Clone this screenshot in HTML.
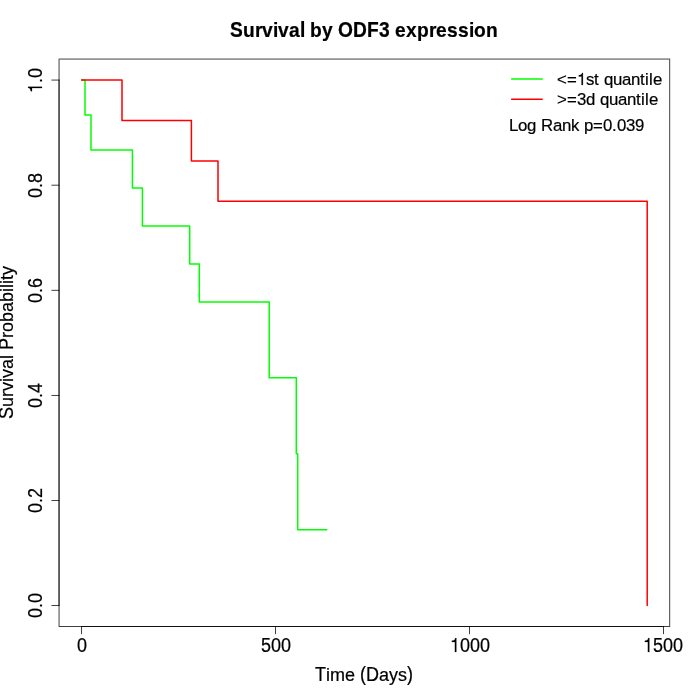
<!DOCTYPE html>
<html>
<head>
<meta charset="utf-8">
<title>Survival by ODF3 expression</title>
<style>
  html, body { margin: 0; padding: 0; background: #ffffff; }
  body { width: 700px; height: 700px; overflow: hidden; }
  svg { display: block; will-change: transform; }
  text { font-family: "Liberation Sans", sans-serif; fill: #000000; }
</style>
</head>
<body>
<svg width="700" height="700" viewBox="0 0 700 700">
  <rect x="0" y="0" width="700" height="700" fill="#ffffff"/>

  <!-- survival curves -->
  <g fill="none" stroke-width="1.5" stroke-linecap="round" stroke-linejoin="round">
    <path stroke="#00ff00" d="M81.66 80.06 H85 V115.09 H91 V150.12 H132.4 V188.08 H142.4 V226.03 H189.7 V263.98 H199.3 V301.93 H269.2 V377.84 H296.3 V453.74 H297.7 V529.65 H326.8"/>
    <path stroke="#ff0000" d="M81.66 80.06 H122 V120.48 H191.4 V160.9 H218 V201.33 H647.2 V605.54"/>
  </g>

  <!-- axes, box and ticks (0.75px lines rendered as pixel-aligned coverage rects) -->
  <g fill="#000000" shape-rendering="crispEdges">
    <rect x="59" y="58" width="611" height="1" fill-opacity="0.335"/>
    <rect x="58" y="58" width="1" height="1" fill-opacity="0.112"/>
    <rect x="670" y="58" width="1" height="1" fill-opacity="0.045"/>
    <rect x="59" y="59" width="611" height="1" fill-opacity="0.415"/>
    <rect x="58" y="59" width="1" height="1" fill-opacity="0.139"/>
    <rect x="670" y="59" width="1" height="1" fill-opacity="0.056"/>
    <rect x="59" y="626" width="611" height="1" fill-opacity="0.750"/>
    <rect x="58" y="626" width="1" height="1" fill-opacity="0.251"/>
    <rect x="670" y="626" width="1" height="1" fill-opacity="0.101"/>
    <rect x="58" y="60" width="1" height="566" fill-opacity="0.335"/>
    <rect x="58" y="59" width="1" height="1" fill-opacity="0.196"/>
    <rect x="58" y="626" width="1" height="1" fill-opacity="0.062"/>
    <rect x="59" y="60" width="1" height="566" fill-opacity="0.415"/>
    <rect x="59" y="59" width="1" height="1" fill-opacity="0.243"/>
    <rect x="59" y="626" width="1" height="1" fill-opacity="0.077"/>
    <rect x="669" y="60" width="1" height="566" fill-opacity="0.615"/>
    <rect x="669" y="59" width="1" height="1" fill-opacity="0.360"/>
    <rect x="669" y="626" width="1" height="1" fill-opacity="0.114"/>
    <rect x="670" y="60" width="1" height="566" fill-opacity="0.135"/>
    <rect x="670" y="59" width="1" height="1" fill-opacity="0.079"/>
    <rect x="670" y="626" width="1" height="1" fill-opacity="0.025"/>
    <rect x="82" y="626" width="581" height="1" fill-opacity="0.750"/>
    <rect x="81" y="626" width="1" height="1" fill-opacity="0.537"/>
    <rect x="663" y="626" width="1" height="1" fill-opacity="0.604"/>
    <rect x="81" y="627" width="1" height="7" fill-opacity="0.716"/>
    <rect x="81" y="626" width="1" height="1" fill-opacity="0.584"/>
    <rect x="81" y="634" width="1" height="1" fill-opacity="0.097"/>
    <rect x="82" y="627" width="1" height="7" fill-opacity="0.034"/>
    <rect x="82" y="626" width="1" height="1" fill-opacity="0.028"/>
    <rect x="82" y="634" width="1" height="1" fill-opacity="0.005"/>
    <rect x="275" y="627" width="1" height="7" fill-opacity="0.750"/>
    <rect x="275" y="626" width="1" height="1" fill-opacity="0.611"/>
    <rect x="275" y="634" width="1" height="1" fill-opacity="0.101"/>
    <rect x="469" y="627" width="1" height="7" fill-opacity="0.750"/>
    <rect x="469" y="626" width="1" height="1" fill-opacity="0.611"/>
    <rect x="469" y="634" width="1" height="1" fill-opacity="0.101"/>
    <rect x="663" y="627" width="1" height="7" fill-opacity="0.750"/>
    <rect x="663" y="626" width="1" height="1" fill-opacity="0.611"/>
    <rect x="663" y="634" width="1" height="1" fill-opacity="0.101"/>
    <rect x="58" y="80" width="1" height="525" fill-opacity="0.335"/>
    <rect x="58" y="79" width="1" height="1" fill-opacity="0.106"/>
    <rect x="58" y="605" width="1" height="1" fill-opacity="0.307"/>
    <rect x="59" y="80" width="1" height="525" fill-opacity="0.415"/>
    <rect x="59" y="79" width="1" height="1" fill-opacity="0.131"/>
    <rect x="59" y="605" width="1" height="1" fill-opacity="0.380"/>
    <rect x="52" y="605" width="7" height="1" fill-opacity="0.750"/>
    <rect x="51" y="605" width="1" height="1" fill-opacity="0.401"/>
    <rect x="59" y="605" width="1" height="1" fill-opacity="0.311"/>
    <rect x="52" y="500" width="7" height="1" fill-opacity="0.750"/>
    <rect x="51" y="500" width="1" height="1" fill-opacity="0.401"/>
    <rect x="59" y="500" width="1" height="1" fill-opacity="0.311"/>
    <rect x="52" y="394" width="7" height="1" fill-opacity="0.027"/>
    <rect x="51" y="394" width="1" height="1" fill-opacity="0.014"/>
    <rect x="59" y="394" width="1" height="1" fill-opacity="0.011"/>
    <rect x="52" y="395" width="7" height="1" fill-opacity="0.723"/>
    <rect x="51" y="395" width="1" height="1" fill-opacity="0.387"/>
    <rect x="59" y="395" width="1" height="1" fill-opacity="0.300"/>
    <rect x="52" y="289" width="7" height="1" fill-opacity="0.123"/>
    <rect x="51" y="289" width="1" height="1" fill-opacity="0.066"/>
    <rect x="59" y="289" width="1" height="1" fill-opacity="0.051"/>
    <rect x="52" y="290" width="7" height="1" fill-opacity="0.627"/>
    <rect x="51" y="290" width="1" height="1" fill-opacity="0.335"/>
    <rect x="59" y="290" width="1" height="1" fill-opacity="0.260"/>
    <rect x="52" y="184" width="7" height="1" fill-opacity="0.219"/>
    <rect x="51" y="184" width="1" height="1" fill-opacity="0.117"/>
    <rect x="59" y="184" width="1" height="1" fill-opacity="0.091"/>
    <rect x="52" y="185" width="7" height="1" fill-opacity="0.531"/>
    <rect x="51" y="185" width="1" height="1" fill-opacity="0.284"/>
    <rect x="59" y="185" width="1" height="1" fill-opacity="0.220"/>
    <rect x="52" y="79" width="7" height="1" fill-opacity="0.316"/>
    <rect x="51" y="79" width="1" height="1" fill-opacity="0.169"/>
    <rect x="59" y="79" width="1" height="1" fill-opacity="0.131"/>
    <rect x="52" y="80" width="7" height="1" fill-opacity="0.434"/>
    <rect x="51" y="80" width="1" height="1" fill-opacity="0.232"/>
    <rect x="59" y="80" width="1" height="1" fill-opacity="0.180"/>
  </g>

  <!-- legend lines -->
  <g fill="none" stroke-width="1.5" stroke-linecap="round">
    <path stroke="#00ff00" d="M511.6 79.1 H542.2"/>
    <path stroke="#ff0000" d="M511.6 99.3 H542.2"/>
  </g>

  <!-- all text: glyphs placed at hinted integer advances -->
  <g fill="#000000" stroke="#000000" stroke-width="0.2" stroke-linejoin="round">
    <!-- x tick 0 -->
    <text transform="translate(77,652) scale(1,1.09)" font-size="18" x="0">0</text>
    <!-- x tick 500 -->
    <text transform="translate(261,652) scale(1,1.09)" font-size="18" x="0 10 20">500</text>
    <!-- x tick 1000 -->
    <text transform="translate(450,652) scale(1,1.09)" font-size="18" x="10 20 30">000</text>
    <path vector-effect="non-scaling-stroke" transform="translate(450,652) scale(0.01800,-0.01991)" d="M271 0H352V703H298C286 625 238 575 104 565V502H271Z"/>
    <!-- x tick 1500 -->
    <text transform="translate(643,652) scale(1,1.09)" font-size="18" x="10 20 30">500</text>
    <path vector-effect="non-scaling-stroke" transform="translate(643,652) scale(0.01800,-0.01991)" d="M271 0H352V703H298C286 625 238 575 104 565V502H271Z"/>
    <!-- y tick 0.0 -->
    <text transform="translate(42,618) rotate(-90) scale(1,1.09)" font-size="18" x="0 15">00</text>
    <text transform="translate(42,618) rotate(-90)" font-size="18" x="10">.</text>
    <!-- y tick 0.2 -->
    <text transform="translate(42,513) rotate(-90) scale(1,1.09)" font-size="18" x="0 15">02</text>
    <text transform="translate(42,513) rotate(-90)" font-size="18" x="10">.</text>
    <!-- y tick 0.4 -->
    <text transform="translate(42,408) rotate(-90) scale(1,1.09)" font-size="18" x="0 15">04</text>
    <text transform="translate(42,408) rotate(-90)" font-size="18" x="10">.</text>
    <!-- y tick 0.6 -->
    <text transform="translate(42,303) rotate(-90) scale(1,1.09)" font-size="18" x="0 15">06</text>
    <text transform="translate(42,303) rotate(-90)" font-size="18" x="10">.</text>
    <!-- y tick 0.8 -->
    <text transform="translate(42,198) rotate(-90) scale(1,1.09)" font-size="18" x="0 15">08</text>
    <text transform="translate(42,198) rotate(-90)" font-size="18" x="10">.</text>
    <!-- y tick 1.0 -->
    <text transform="translate(42,93) rotate(-90) scale(1,1.09)" font-size="18" x="15">0</text>
    <text transform="translate(42,93) rotate(-90)" font-size="18" x="10">.</text>
    <path vector-effect="non-scaling-stroke" transform="translate(42,93) rotate(-90) translate(0,0) scale(0.01800,-0.01991)" d="M271 0H352V703H298C286 625 238 575 104 565V502H271Z"/>
    <!-- title -->
    <text transform="translate(230,37) scale(1,1.12)" font-size="19.2" font-weight="bold" x="0 70 108 123 137 149">SlODF3</text>
    <text transform="translate(230,37) scale(1,1.05)" font-size="19.2" font-weight="bold" x="13 25 32 43 48 59 80 92 165 176 187 199 206 217 228 239 244 256">urvivabyexpression</text>
    <!-- x label -->
    <text transform="translate(315,681) scale(1,1.09)" font-size="18" x="0 45 51 92">T(D)</text>
    <text transform="translate(315,681)" font-size="18" x="11 15 30 64 74 83">imeays</text>
    <!-- y label -->
    <text transform="translate(13,419) rotate(-90) scale(1,1.09)" font-size="18" x="0 60 69 131">SlPl</text>
    <text transform="translate(13,419) rotate(-90)" font-size="18" x="12 22 28 37 41 50 81 87 97 107 117 127 135 139 144">urvivarobabiity</text>
    <!-- legend 1 -->
    <text transform="translate(557,85)" font-size="16.8" x="92">l</text>
    <text transform="translate(557,85)" font-size="16.8" x="0 10 29 37 47 56 65 74 83 88 96">&lt;=stquantie</text>
    <path vector-effect="non-scaling-stroke" transform="translate(577,85) scale(0.01680,-0.01707)" d="M271 0H352V703H298C286 625 238 575 104 565V502H271Z"/>
    <!-- legend 2 -->
    <text transform="translate(557,105)" font-size="16.8" x="20 88">3l</text>
    <text transform="translate(557,105)" font-size="16.8" x="0 10 29 43 52 61 70 79 84 92">&gt;=dquantie</text>
    <!-- legend 3 -->
    <text transform="translate(509,131)" font-size="16.8" x="0 32 94 108 117 126">LR0039</text>
    <text transform="translate(509,131)" font-size="16.8" x="9 18 44 53 62 75 84 103">ogankp=.</text>
  </g>
</svg>
</body>
</html>
